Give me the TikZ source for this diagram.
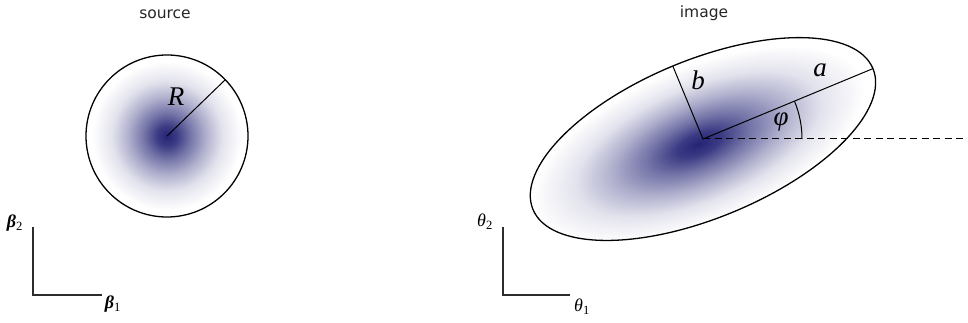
\documentclass[tikz,border=0pt]{standalone}
\usepackage{fontspec}
\usetikzlibrary{calc}
\newfontfamily\labfont{DejaVu Sans}
\newfontfamily\symfont{Liberation Serif}
\definecolor{blobc}{RGB}{36,36,118}
\definecolor{axisc}{RGB}{45,45,45}
\pgfdeclareradialshading{blob}{\pgfpointorigin}{%
  color(0bp)=(blobc);
  color(3bp)=(blobc!90);
  color(7bp)=(blobc!64);
  color(12bp)=(blobc!36);
  color(17bp)=(blobc!13);
  color(23bp)=(white);
  color(50bp)=(white)}
\newcommand{\sbs}[1]{\textsubscript{\upshape\mdseries #1}}
\begin{document}
\begin{tikzpicture}[x=1pt,y=1pt,
  outline/.style={draw=black,line width=1.3pt},
  radline/.style={draw=black,line width=1pt},
  axisline/.style={draw=axisc,line width=2pt},
  title/.style={font=\labfont\fontsize{15.5}{18}\selectfont,text=black!85,inner sep=0pt},
  biglab/.style={font=\symfont\itshape\fontsize{27}{30}\selectfont,inner sep=0pt},
  axlab/.style={font=\symfont\itshape\fontsize{18}{21}\selectfont,inner sep=0pt}]
\useasboundingbox (0,0) rectangle (968,323);
% ---------- source ----------
\node[title] (srct) at (165,309) {source};
\coordinate (C) at (167,187);
\shade[shading=blob] (C) circle (81);
\node[outline,circle,minimum size=162pt,inner sep=0pt] (circ) at (C) {};
\coordinate (Rend) at ($(C)+(44:81)$);
\draw[radline] (C) -- (Rend);
\node[biglab] (Rl) at (176,226) {R};
% beta axes
\coordinate (bo) at (33,28);
\coordinate (bt) at (33,96);
\coordinate (br) at (102,28);
\draw[axisline] (bt) -- (bo) -- (br);
\node[axlab,font=\symfont\bfseries\itshape\fontsize{18}{21}\selectfont] (b2) at (15,100) {β\sbs{2}};
\node[axlab,font=\symfont\bfseries\itshape\fontsize{18}{21}\selectfont] (b1) at (113,19) {β\sbs{1}};
% ---------- image ----------
\node[title] (imgt) at (704,310) {image};
\coordinate (E) at (703,184);
\begin{scope}
  \clip[rotate around={22.5:(E)}] (E) ellipse [x radius=184, y radius=79];
  \begin{scope}[transform canvas={shift={(E)},rotate=22.5}]
    \shade[shading=blob] (-6,-3) ellipse [x radius=192, y radius=84];
  \end{scope}
\end{scope}
\draw[outline,rotate around={22.5:(E)}] (E) ellipse [x radius=184, y radius=79];
\coordinate (Aend) at ($(E)+(22.5:184)$);
\coordinate (Bend) at ($(E)+(112.5:79)$);
\coordinate (Dend) at (968,184);
\draw[radline] (Bend) -- (E) -- (Aend);
\draw[radline,dash pattern=on 7pt off 4.5pt] (E) -- (Dend);
\draw[radline] ($(E)+(0:99)$) arc[start angle=0,end angle=22.5,radius=99];
\node[biglab] (phil) at (781,201) {φ};
\node[biglab] (bl) at (698,243) {b};
\node[biglab] (al) at (820,253) {a};
% theta axes
\coordinate (to) at (503,28);
\coordinate (tt) at (503,96);
\coordinate (tr) at (570,28);
\draw[axisline] (tt) -- (to) -- (tr);
\node[axlab] (t2) at (485,101) {θ\sbs{2}};
\node[axlab] (t1) at (582,16) {θ\sbs{1}};
\end{tikzpicture}
\end{document}
